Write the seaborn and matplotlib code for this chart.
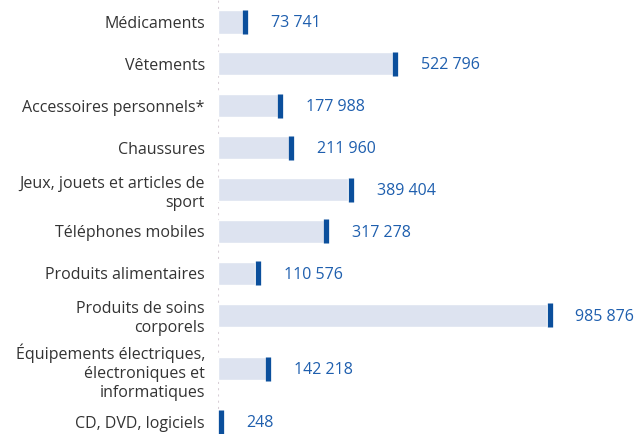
import matplotlib
matplotlib.use("Agg")
import matplotlib.pyplot as plt
from matplotlib.transforms import offset_copy
import seaborn as sns
import pandas as pd
import numpy as np

categories = [
    "Médicaments",
    "Vêtements",
    "Accessoires personnels*",
    "Chaussures",
    "Jeux, jouets et articles de\nsport",
    "Téléphones mobiles",
    "Produits alimentaires",
    "Produits de soins\ncorporels",
    "Équipements électriques,\nélectroniques et\ninformatiques",
    "CD, DVD, logiciels",
]
values = [73741, 522796, 177988, 211960, 389404, 317278, 110576, 985876, 142218, 248]

# row positions: rows whose label needs 3 lines get a little extra room
nlines = np.array([c.count("\n") + 1 for c in categories])
half = np.where(nlines > 2, 0.775, 0.5)
pos = np.concatenate([[0.0], np.cumsum(half[:-1] + half[1:])])

df = pd.DataFrame({"cat": categories, "val": values, "pos": pos})

sns.set_theme(style="white")
plt.rcParams["font.family"] = ["Open Sans", "DejaVu Sans"]

BAR = "#dde3f0"
MARK = "#0b4f9c"
VALC = "#1f5fae"
LABC = "#333333"

fig = plt.figure(figsize=(6.36, 4.34), dpi=100)
ax = fig.add_axes([0.343, 0.0, 0.657, 1.0])

sns.barplot(data=df, y="pos", x="val", orient="h", native_scale=True,
            color=BAR, width=0.55, saturation=1, ax=ax, zorder=2)
sns.scatterplot(data=df, y="pos", x="val", marker="|", s=290, linewidth=3.8,
                color=MARK, ax=ax, zorder=3, legend=False)
ax.collections[-1].set_offset_transform(
    offset_copy(ax.transData, fig=fig, x=2.5, y=0, units="dots"))

for p, v in zip(pos, values):
    ax.annotate(f"{v:,}".replace(",", " "), xy=(v, p), xytext=(20.5, -1),
                textcoords="offset points", ha="left", va="center",
                color=VALC, fontsize=11.5)

ax.axvline(0, color="#d8cfd6", linestyle=(0, (1, 2)), linewidth=1.5, zorder=1)

span = pos[-1]
ax.set_xlim(0, 1.2526e6)
ax.set_ylim(pos[-1] + 12 / 400 * span, -22 / 400 * span)
ax.set_yticks(pos)
ax.set_yticklabels(categories)
ax.set_xlabel("")
ax.set_ylabel("")
ax.set_xticks([])
for s in ax.spines.values():
    s.set_visible(False)
ax.tick_params(axis="y", length=0, pad=9.5, labelsize=11.5, labelcolor=LABC)
for t in ax.get_yticklabels():
    t.set_linespacing(1.25)

fig.savefig("out.png", dpi=100)
